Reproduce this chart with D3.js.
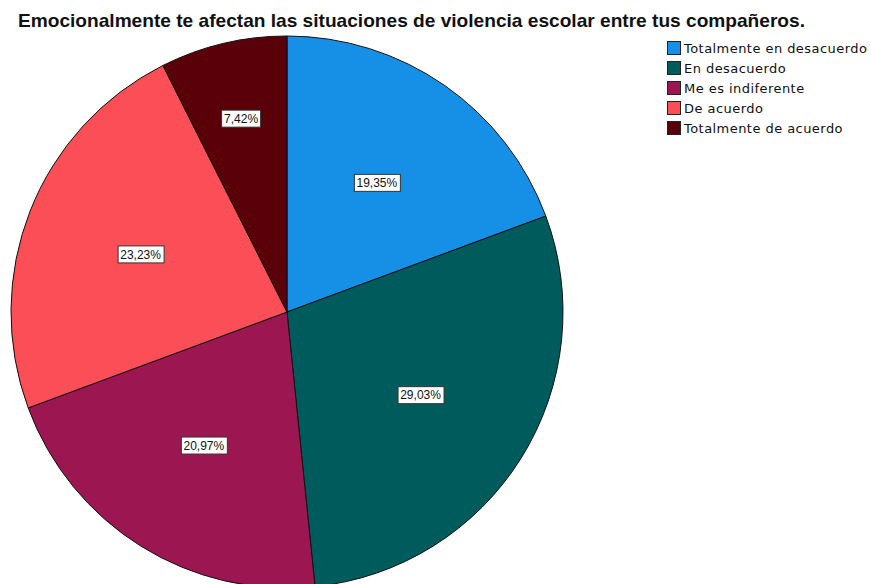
<!DOCTYPE html>
<html>
<head>
<meta charset="utf-8">
<script src="https://cdn.jsdelivr.net/npm/d3@7"></script>
<style>
  body { margin: 0; background: #fff; }
  svg { display: block; }
</style>
</head>
<body>
<div id="chart"></div>
<script>
'use strict';

// data
var categories = ['Totalmente en desacuerdo', 'En desacuerdo', 'Me es indiferente', 'De acuerdo', 'Totalmente de acuerdo'];
var percents = [19.35, 29.03, 20.97, 23.23, 7.42];
var colors = ['#1590e6', '#005c5c', '#9c1751', '#fb4e56', '#5a0009'];
var title = 'Emocionalmente te afectan las situaciones de violencia escolar entre tus compañeros.';

var width = 871, height = 584;
var cx = 287, cy = 312, r = 276;

var svg = d3.select('#chart').append('svg')
    .attr('width', width)
    .attr('height', height);

var rows = categories.map(function(c, i){
    return { name: c, value: percents[i], color: colors[i] };
});

var pie = d3.pie()
    .sort(null)
    .value(function(d){ return d.value; });

var arc = d3.arc().innerRadius(0).outerRadius(r);
var labelArc = d3.arc().innerRadius(r * 0.57).outerRadius(r * 0.57);
var smallArc = d3.arc().innerRadius(r * 0.72).outerRadius(r * 0.72);

var g = svg.append('g')
    .attr('transform', 'translate(' + cx + ',' + cy + ')');

var slices = pie(rows);

g.selectAll('path')
    .data(slices)
    .enter()
        .append('path')
        .attr('d', arc)
        .attr('fill', function(d){ return d.data.color; })
        .attr('stroke', '#111')
        .attr('stroke-width', 1);

// value labels in little boxes
var lab = g.selectAll('g.lab')
    .data(slices)
    .enter()
        .append('g')
        .attr('class', 'lab')
        .attr('transform', function(d){
            // the small slice sits further out
            var p = d.data.value < 10 ? smallArc.centroid(d) : labelArc.centroid(d);
            return 'translate(' + p[0] + ',' + p[1] + ')';
        });

lab.append('text')
    .attr('text-anchor', 'middle')
    .attr('dy', '0.36em')
    .style('font-family', 'Liberation Sans, Arial, sans-serif')
    .style('font-size', '12px')
    .attr('fill', '#111')
    .text(function(d){ return d.data.value.toFixed(2).replace('.', ',') + '%'; });

lab.each(function(){
    var t = d3.select(this).select('text');
    var bb = t.node().getBBox();
    d3.select(this).insert('rect', 'text')
        .attr('x', Math.round(bb.x) - 2.5)
        .attr('y', -8.5)
        .attr('width', Math.round(bb.width) + 5)
        .attr('height', 17)
        .attr('fill', '#fff')
        .attr('stroke', '#333')
        .attr('stroke-width', 1);
});

// title
var tt = svg.append('text')
    .attr('x', 18)
    .attr('y', 27)
    .style('font-family', 'Liberation Sans, Arial, sans-serif')
    .style('font-weight', 'bold')
    .style('font-size', '16px')
    .attr('fill', '#111')
    .text(title);
var tw = tt.node().getComputedTextLength();
tt.style('font-size', (16 * 787 / tw) + 'px');

// legend
var legend = svg.append('g')
    .attr('transform', 'translate(667,41)');

var item = legend.selectAll('g')
    .data(rows)
    .enter()
        .append('g')
        .attr('transform', function(d, i){ return 'translate(0,' + (i * 20) + ')'; });

item.append('rect')
    .attr('x', 0.5)
    .attr('y', 0.5)
    .attr('width', 13)
    .attr('height', 13)
    .attr('fill', function(d){ return d.color; })
    .attr('stroke', '#222');

item.append('text')
    .attr('x', 17)
    .attr('y', 12)
    .style('font-family', 'DejaVu Sans, sans-serif')
    .style('font-size', '13px')
    .style('letter-spacing', '0.45px')
    .attr('fill', '#111')
    .text(function(d){ return d.name; });
</script>
</body>
</html>
